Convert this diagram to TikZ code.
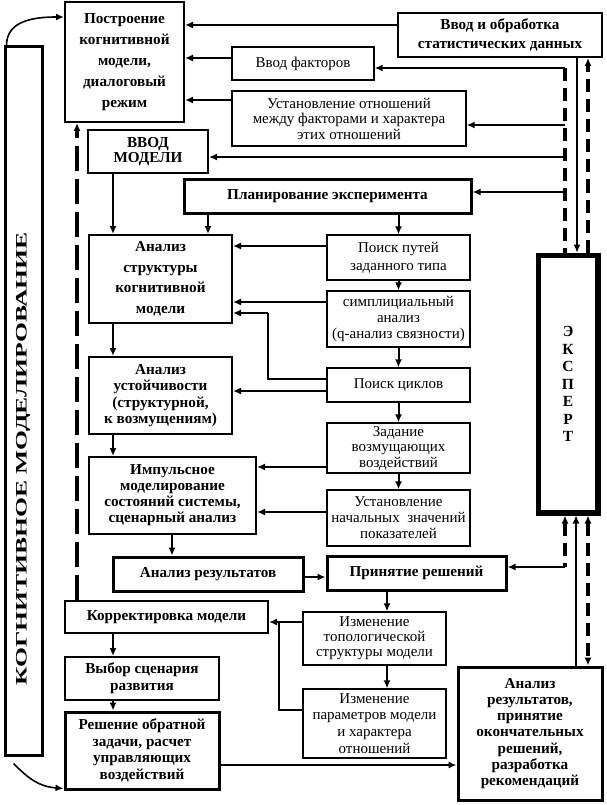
\documentclass[tikz,border=0pt]{standalone}
\usepackage{graphicx}
\usepackage{fontspec}
\setmainfont{Liberation Serif}
\usetikzlibrary{arrows.meta}
\begin{document}
\begin{tikzpicture}[x=1pt,y=-1pt,
  >={Latex[length=8pt,width=7pt]},
  sz/.style 2 args={minimum width=#1pt, minimum height=#2pt},
  bx/.style={draw, line width=1.2pt, align=center, inner sep=0pt, font=\fontsize{15}{16}\selectfont},
  bbx/.style={draw, line width=2pt, align=center, inner sep=0pt, font=\fontsize{15.2}{16}\selectfont\bfseries},
  tbx/.style={bbx, line width=3pt},
  arr/.style={line width=2pt, ->},
  thinl/.style={line width=1.1pt},
  dsh/.style={line width=3.2pt, dash pattern=on 13pt off 7pt},
  dshl/.style={line width=3.2pt, dash pattern=on 25pt off 8pt},
  crv/.style={line width=1.6pt, ->}
]
\useasboundingbox (0,0) rectangle (606,805);

% boxes
\node[bbx, sz={119}{120}, font=\fontsize{15.2}{21}\selectfont\bfseries] (build) at (124.5,62) {Построение\\когнитивной\\модели,\\диалоговый\\режим};
\node[bbx, sz={204}{44}, font=\fontsize{15.2}{19}\selectfont\bfseries] (stat) at (500,35) {Ввод и обработка\\статистических данных};
\node[bx, sz={142}{33}] (fact) at (303,63.5) {Ввод факторов};
\node[bx, sz={234}{55}, font=\fontsize{15}{15.5}\selectfont] (rel) at (349,118.5) {Установление отношений\\между факторами и характера\\этих отношений};
\node[bbx, sz={120}{43}, font=\fontsize{15.2}{15.5}\selectfont\bfseries] (vvod) at (148,151.5) {ВВОД\\МОДЕЛИ};
\node[tbx, sz={287}{33}] (plan) at (327.5,196.5) {Планирование эксперимента};
\node[bbx, sz={143}{88}, font=\fontsize{15.2}{20.5}\selectfont\bfseries] (struct) at (160.5,279) {Анализ\\структуры\\когнитивной\\модели};
\node[bx, sz={143}{45}, font=\fontsize{15}{18}\selectfont] (paths) at (398.5,257.5) {Поиск путей\\заданного типа};
\node[bx, sz={143}{56}] (simp) at (398.5,319) {симплициальный\\анализ\\(q-анализ связности)};
\node[bx, sz={143}{34}] (cyc) at (398.5,385) {Поиск циклов};
\node[bbx, sz={143}{77}, font=\fontsize{15.2}{16.5}\selectfont\bfseries] (stab) at (160.5,395.5) {Анализ\\устойчивости\\(структурной,\\к возмущениям)};
\node[bx, sz={143}{50}, font=\fontsize{15}{15.5}\selectfont] (dist) at (398.5,448) {Задание\\возмущающих\\воздействий};
\node[bx, sz={143}{56}] (init) at (398.5,518) {Установление\\начальных\ \ значений\\показателей};
\node[bbx, sz={167}{77}] (imp) at (172.5,495.5) {Импульсное\\моделирование\\состояний системы,\\сценарный анализ};
\node[tbx, sz={190}{34}] (res) at (208,574) {Анализ результатов};
\node[tbx, sz={179}{34}] (dec) at (416.5,573) {Принятие решений};
\node[draw, line width=5pt, sz={60}{258}, inner sep=0pt, align=center, font=\fontsize{15.5}{17.5}\selectfont\bfseries] (expert) at (568,384) {Э\\К\\С\\П\\Е\\Р\\Т};
\draw[line width=1.2pt] ([shift={(5pt,-5pt)}]expert.north west) rectangle ([shift={(-5pt,5pt)}]expert.south east);
\node[bbx, sz={203}{32}] (corr) at (166.5,617) {Корректировка модели};
\node[bx, sz={143}{53}, font=\fontsize{15}{15}\selectfont] (topo) at (374.5,638.5) {Изменение\\топологической\\структуры модели};
\node[bbx, sz={154}{43}, font=\fontsize{15.2}{17}\selectfont\bfseries] (choice) at (142,678.5) {Выбор сценария\\развития};
\node[bx, sz={143}{69}, font=\fontsize{15}{16.7}\selectfont] (params) at (374.5,723.5) {Изменение\\параметров модели\\и характера\\отношений};
\node[tbx, sz={154}{77}, font=\fontsize{15.2}{16.5}\selectfont\bfseries] (inv) at (142,750.5) {Решение обратной\\задачи, расчет\\управляющих\\воздействий};
\node[tbx, sz={144}{133}, font=\fontsize{15.2}{16.3}\selectfont\bfseries] (final) at (530,733.5) {Анализ\\результатов,\\принятие\\окончательных\\решений,\\разработка\\рекомендаций};
\node[draw, line width=3pt, sz={37}{708}] (left) at (23.5,401) {};
\node[rotate=90, inner sep=0pt, font=\fontsize{16}{16}\selectfont\bfseries] (lefttext) at (23,459) {\scalebox{1.6}[1]{КОГНИТИВНОЕ МОДЕЛИРОВАНИЕ}};

% helper coordinates
\coordinate (dtop) at (565,68);
\coordinate (d1) at (565,125);
\coordinate (d2) at (565,157);
\coordinate (d3) at (565,192);
\coordinate (d4) at (565,567);
\coordinate (k0) at (268,379);
\coordinate (k1) at (268,313);
\coordinate (m0) at (279,710);
\coordinate (m1) at (279,622);

% top connectors
\draw[arr] (stat.west |- 0,25) -- (build.east |- 0,25);
\draw[arr] (fact.west |- 0,58) -- (build.east |- 0,58);
\draw[arr] (rel.west |- 0,100) -- (build.east |- 0,100);
\draw[dsh] (dtop) -- (expert.north -| dtop);
\draw[arr] (dtop) -- (fact.east |- dtop);
\draw[arr] (d1) -- (rel.east |- d1);
\draw[arr] (d2) -- (vvod.east |- d2);
\draw[arr] (d3) -- (plan.east |- d3);
\draw[thinl,->] (stat.south -| 577,0) -- (expert.north -| 577,0);
\draw[dsh,->] (expert.north -| 588,0) -- (stat.south -| 588,0);

% middle
\draw[arr] (vvod.south -| 113,0) -- (struct.north -| 113,0);
\draw[arr] (plan.south -| 208,0) -- (struct.north -| 208,0);
\draw[arr] (plan.south -| paths.north) -- (paths.north);
\draw[arr] (paths.south) -- (simp.north);
\draw[arr] (simp.south) -- (cyc.north);
\draw[arr] (cyc.south) -- (dist.north);
\draw[arr] (dist.south) -- (init.north);
\draw[arr] (paths.west |- 0,246) -- (struct.east |- 0,246);
\draw[arr] (simp.west |- 0,302) -- (struct.east |- 0,302);
\draw[thinl] (cyc.west |- k0) -- (k0) -- (k1);
\draw[arr] (k1) -- (struct.east |- k1);
\draw[arr] (cyc.west |- 0,391) -- (stab.east |- 0,391);
\draw[arr] (struct.south -| 113,0) -- (stab.north -| 113,0);
\draw[arr] (stab.south -| 113,0) -- (imp.north -| 113,0);
\draw[arr] (dist.west |- 0,467) -- (imp.east |- 0,467);
\draw[arr] (init.west |- 0,512) -- (imp.east |- 0,512);
\draw[arr] (imp.south -| 172,0) -- (res.north -| 172,0);
\draw[arr] (res.east |- 0,577) -- (dec.west |- 0,577);

% bottom
\draw[arr] (dec.south -| 387,0) -- (topo.north -| 387,0);
\draw[arr] (topo.south -| 387,0) -- (params.north -| 387,0);
\draw[arr] (topo.west |- m1) -- (corr.east |- m1);
\draw[thinl] (params.west |- m0) -- (m0) -- (m1);
\draw[arr] (corr.south -| 113,0) -- (choice.north -| 113,0);
\draw[arr] (choice.south -| 113,0) -- (inv.north -| 113,0);
\draw[arr] (inv.east |- 0,765) -- (final.west |- 0,765);
\draw[dsh,<-] (expert.south -| d4) -- (d4);
\draw[arr] (d4) -- (dec.east |- d4);
\draw[thinl,->] (final.north -| 576,0) -- (expert.south -| 576,0);
\draw[dsh,<->] (expert.south -| 588,0) -- (final.north -| 588,0);

% left
\draw[dshl,->] (corr.north -| 77,0) -- (build.south -| 77,0);
\draw[crv] ([xshift=3pt]left.north west) .. controls +(0,-25) and +(-30,0) .. (build.west |- 0,17);
\draw[crv] ([xshift=10pt,yshift=-7pt]left.south west) .. controls +(15,15) and +(-25,-2) .. ([yshift=2pt]inv.south west);
\end{tikzpicture}
\end{document}
